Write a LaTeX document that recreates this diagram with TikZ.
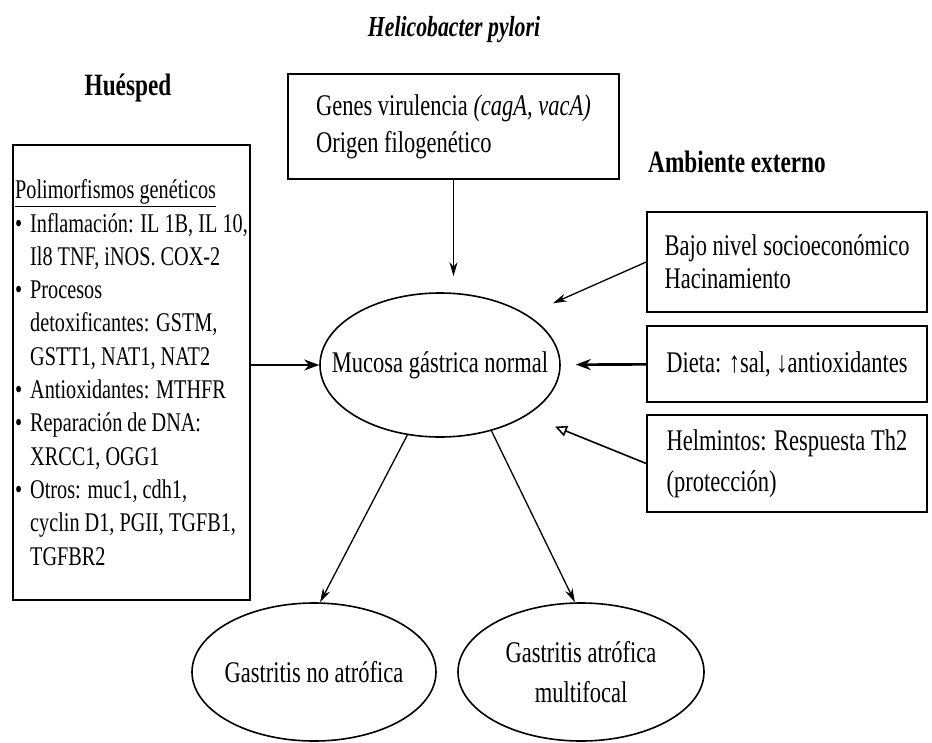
\documentclass[tikz,border=0pt]{standalone}
\usepackage{fontspec}
\setmainfont{Liberation Serif}[FakeStretch=0.75]
\usetikzlibrary{arrows.meta, positioning, shapes.geometric}
\newcommand{\zw}[1]{\makebox[0pt]{#1}}
\newcommand{\itm}{\makebox[15pt][l]{\textbullet}}
\newcommand{\ind}{\hspace*{15pt}}

\begin{document}
\begin{tikzpicture} [x = 1pt, y = -1pt, line width = 1.6pt,
    font = \fontsize{30}{33.3}\selectfont,
    box/.style = {draw, rectangle, inner sep = 0pt, align = left},
    oval/.style = {draw, ellipse, inner sep = 0pt, align = center},
    head/.style = {font = \fontsize{31}{36}\selectfont\bfseries},
    thick arrow/.style = {line width = 2.6pt, -{Stealth[length = 15pt, width = 11pt]}},
    thin arrow/.style = {line width = 1.3pt, -{Stealth[length = 14pt, width = 8pt]}}]
\useasboundingbox (0,0) rectangle (932,742);
\node (hp) at (454,30) [font = \fontsize{29}{34}\selectfont\bfseries\itshape] {Helicobacter pylori};
\node (hu) at (128,88) [head] {Huésped};
\node (am) at (737,162) [head] {Ambiente externo};
\node (gen) at (453.5,126.5) [box, minimum width = 331pt, minimum height = 105pt]
    {Genes virulencia \textit{(cagA, vacA)}\\[4pt] Origen filogenético};
\node (pol) at (131.5,372.5) [box, minimum width = 237pt, minimum height = 455pt,
    font = \fontsize{27}{33.3}\selectfont]
    {\underline{Polimorfismos genéticos}\\
     \itm Inflamación: IL 1B, IL 10,\\
     \ind Il8 TNF, iNOS. COX-2\\
     \itm Procesos\\
     \ind detoxificantes: GSTM,\\
     \ind GSTT1, NAT1, NAT2\\
     \itm Antioxidantes: MTHFR\\
     \itm Reparación de DNA:\\
     \ind XRCC1, OGG1\\
     \itm Otros: muc1, cdh1,\\
     \ind cyclin D1, PGII, TGFB1,\\
     \ind TGFBR2};
\node (muc) at (440,365) [oval, minimum width = 240pt, minimum height = 144pt] {\zw{Mucosa gástrica normal}};
\node (baj) at (787,262) [box, minimum width = 280pt, minimum height = 100pt]
    {Bajo nivel socioeconómico\\ Hacinamiento};
\node (die) at (787,364) [box, minimum width = 280pt, minimum height = 76pt]
    {Dieta: ↑sal, ↓antioxidantes};
\node (hel) at (787,463.5) [box, minimum width = 280pt, minimum height = 97pt]
    {Helmintos: Respuesta Th2\\[8pt] (protección)};
\node (gna) at (314,672) [oval, minimum width = 244pt, minimum height = 138pt] {\zw{Gastritis no atrófica}};
\node (gam) at (581,672) [oval, minimum width = 246pt, minimum height = 138pt]
    {\zw{Gastritis atrófica}\\[6pt] \zw{multifocal}};
\path
    (gen) edge [thin arrow, shorten >= 16pt] (gen.south |- muc.north)
    (pol.east |- muc) edge [thick arrow] (muc)
    (die) edge [thick arrow, shorten >= 15pt] (muc)
    (baj.west) edge [thin arrow, shorten >= 28pt] (muc.30)
    (muc.245) edge [thin arrow] (gna.85)
    (muc.308) edge [thin arrow] (gam.95);
\draw [line width = 1.6pt, -{Triangle[open, length = 12pt, width = 11pt]}, shorten >= 30pt] (hel.west) -- (muc.-30);
\end{tikzpicture}
\end{document}
